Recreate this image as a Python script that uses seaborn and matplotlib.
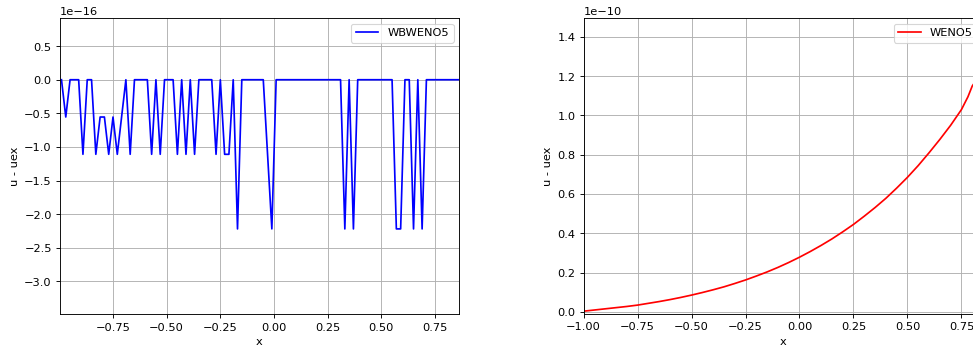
import numpy as np
import pandas as pd
import matplotlib
matplotlib.use("Agg")
import matplotlib.pyplot as plt
import seaborn as sns

# ---- data ----
# WBWENO5 error on 100 cell centres, values in units of 1e-16
wb_x = [-0.99 + 0.02 * i for i in range(100)]
wb_err_e16 = [
    0, -0.555, 0, 0, 0, -1.11, 0, 0, -1.11, -0.555,
    -0.555, -1.11, -0.555, -1.11, -0.555, 0, -1.11, 0, 0, 0,
    0, -1.11, 0, -1.11, 0, 0, 0, -1.11, 0, -1.11,
    0, -1.11, 0, 0, 0, 0, -1.11, 0, -1.11, -1.11,
    0, -2.22, 0, 0, 0, 0, 0, 0, -1.11, -2.22,
    0, 0, 0, 0, 0, 0, 0, 0, 0, 0,
    0, 0, 0, 0, 0, 0, -2.22, 0, -2.22, 0,
    0, 0, 0, 0, 0, 0, 0, 0, -2.22, -2.22,
    0, 0, -2.22, 0, -2.22, 0, 0, 0, 0, 0,
    0, 0, 0, 0, 0, 0, 0, 0, 0, 0,
]

# WENO5 error, values in units of 1e-10
weno_x = [-1.0, -0.95, -0.9, -0.85, -0.8, -0.75, -0.7, -0.65, -0.6, -0.55,
          -0.5, -0.45, -0.4, -0.35, -0.3, -0.25, -0.2, -0.15, -0.1, -0.05,
          0.0, 0.05, 0.1, 0.15, 0.2, 0.25, 0.3, 0.35, 0.4, 0.45,
          0.5, 0.55, 0.6, 0.65, 0.7, 0.75, 0.78, 0.8, 0.85, 0.9]
weno_err_e10 = [0.003, 0.009, 0.015, 0.021, 0.027, 0.034, 0.043, 0.052, 0.062, 0.073,
                0.085, 0.098, 0.112, 0.127, 0.144, 0.162, 0.182, 0.203, 0.226, 0.251,
                0.278, 0.307, 0.338, 0.371, 0.407, 0.445, 0.487, 0.531, 0.578, 0.630,
                0.685, 0.745, 0.810, 0.878, 0.950, 1.030, 1.095, 1.150, 1.230, 1.310]

wb = pd.DataFrame({"x": wb_x, "err": np.array(wb_err_e16) * 1e-16})
we = pd.DataFrame({"x": weno_x, "err": np.array(weno_err_e10) * 1e-10})

plt.rcParams["font.family"] = ["DejaVu Sans"]
DPI = 81.5
fig = plt.figure(figsize=(973.4 / DPI, 349.4 / DPI), dpi=DPI)

ax1 = fig.add_axes([0.0614, 0.0995, 0.4104, 0.8481])
ax2 = fig.add_axes([0.5995, 0.1008, 0.4104, 0.8468])

sns.lineplot(data=wb, x="x", y="err", ax=ax1, color="#0000ff", linewidth=1.5,
             label="WBWENO5", sort=False)
sns.lineplot(data=we, x="x", y="err", ax=ax2, color="#ff0000", linewidth=1.5,
             label="WENO5", sort=False)

ax1.set_xlim(-0.998, 0.863)
ax1.set_ylim(-3.49e-16, 0.92e-16)
ax2.set_xlim(-1.0, 0.85)
ax2.set_ylim(-0.0102e-10, 1.497e-10)

for ax in (ax1, ax2):
    ax.grid(True, color="#b0b0b0", linewidth=0.8)
    ax.set_xlabel("x")
    ax.set_ylabel("u - uex")
    ax.legend(loc="upper right")

fig.savefig("out.png", dpi=DPI)
